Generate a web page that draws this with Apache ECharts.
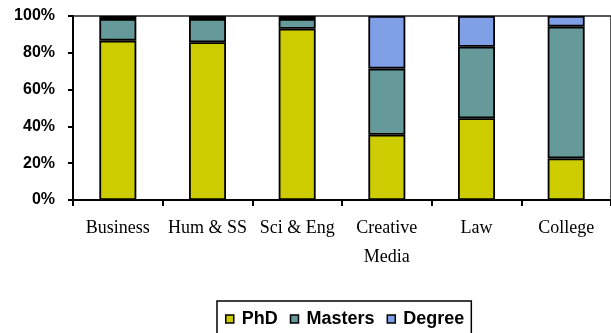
<!DOCTYPE html>
<html>
<head>
<meta charset="utf-8">
<script src="https://cdn.jsdelivr.net/npm/echarts@6/dist/echarts.min.js"></script>
<style>html,body{margin:0;padding:0;background:#fff;}#c{width:611px;height:333px;}</style>
</head>
<body>
<div id="c"></div>
<script>
const categories = ['Business', 'Hum & SS', 'Sci & Eng', 'Creative\nMedia', 'Law', 'College'];
const phd = [86.6, 85.7, 93.1, 35.5, 44.4, 22.6];
const masters = [11.8, 12.7, 5.3, 35.9, 38.9, 71.6];
const degree = [1.6, 1.6, 1.6, 28.6, 16.7, 5.8];
const yTicks = [0, 20, 40, 60, 80, 100];

const chart = echarts.init(document.getElementById('c'), null, {renderer: 'canvas'});
function mk(name, data, color) {
  return {
    name: name, type: 'bar', stack: 'all', data: data, barWidth: 37,
    itemStyle: {color: color, borderColor: '#000', borderWidth: 1.8},
    emphasis: {disabled: true}
  };
}
chart.setOption({
  animation: false,
  grid: {left: 73, top: 16, width: 548, bottom: 133, show: true, borderColor: '#222', borderWidth: 1.5, backgroundColor: 'transparent'},
  xAxis: {
    type: 'category', data: categories,
    axisLine: {lineStyle: {color: '#000', width: 2}},
    axisTick: {show: true, length: 6, lineStyle: {color: '#000', width: 2}},
    axisLabel: {fontFamily: 'Liberation Serif', fontSize: 18, color: '#000', lineHeight: 29, margin: 14, interval: 0}
  },
  yAxis: {
    type: 'value', min: 0, max: 100, interval: 20,
    axisLine: {show: true, lineStyle: {color: '#000', width: 2}},
    axisTick: {show: true, length: 5, lineStyle: {color: '#000', width: 2}},
    splitLine: {show: false},
    axisLabel: {formatter: v => yTicks.includes(v) ? v + '%' : '', fontFamily: 'Liberation Sans', fontWeight: 'bold', fontSize: 16, color: '#000', margin: 18}
  },
  legend: {
    left: 217, top: 301,
    borderColor: '#000', borderWidth: 1.5,
    padding: [9, 7, 20, 8],
    itemWidth: 8, itemHeight: 8, itemGap: 12,
    icon: 'rect',
    textStyle: {fontFamily: 'Liberation Sans', fontWeight: 'bold', fontSize: 18, color: '#000', padding: [0, 0, 0, 3]},
    itemStyle: {borderColor: '#000', borderWidth: 1.5},
    data: ['PhD', 'Masters', 'Degree']
  },
  series: [
    mk('PhD', phd, '#CCCC00'),
    mk('Masters', masters, '#669999'),
    mk('Degree', degree, '#7F9FE6')
  ]
});
</script>
</body>
</html>
